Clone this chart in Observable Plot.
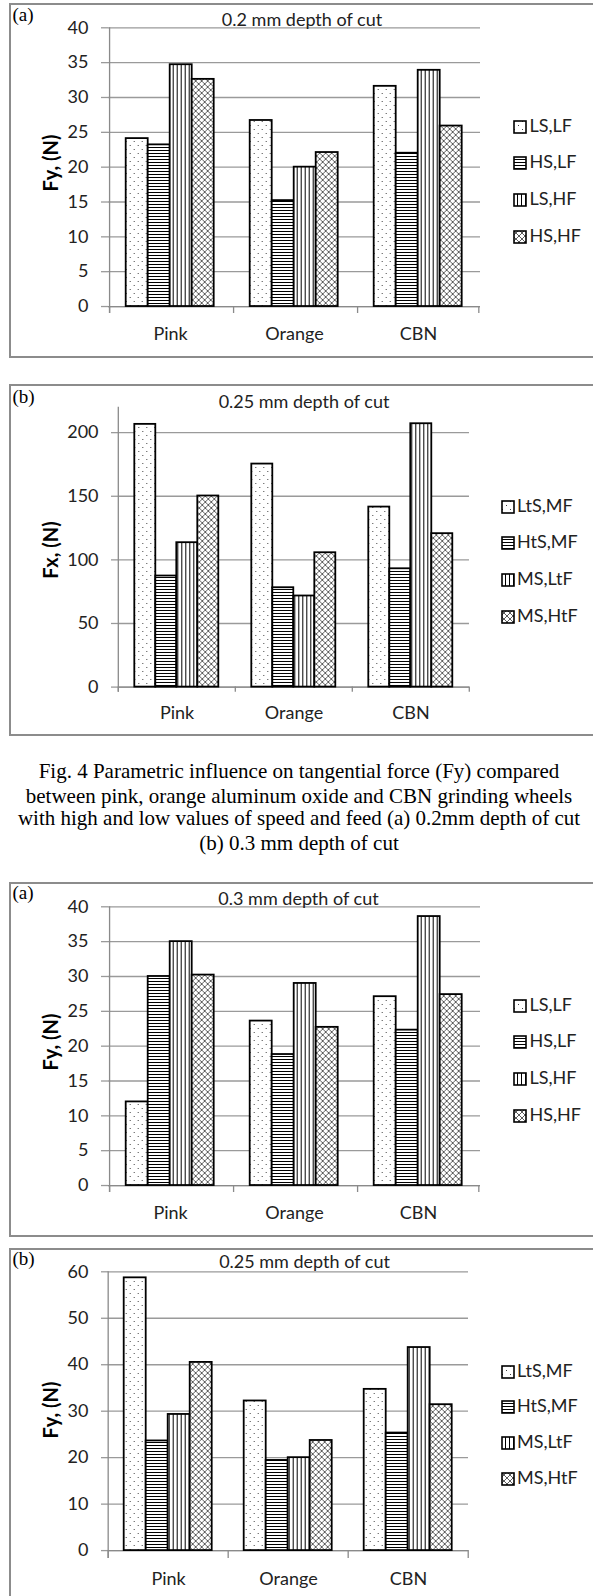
<!DOCTYPE html>
<html>
<head>
<meta charset="utf-8">
<script src="https://cdn.jsdelivr.net/npm/d3@7"></script>
<script src="https://cdn.jsdelivr.net/npm/@observablehq/plot@0.6"></script>
<style>
  html, body { margin: 0; padding: 0; background: #fff; }
  body { width: 593px; height: 1596px; overflow: hidden; position: relative; }
  .abs { position: absolute; white-space: nowrap; }
  .panel { position: absolute; border: 2px solid #8c8c8c; box-sizing: border-box; pointer-events: none; z-index: 3; }
  .plotwrap { position: absolute; left: 0; z-index: 1; }
</style>
</head>
<body>
<svg width="0" height="0" style="position:absolute">
  <defs>
    <pattern id="pat-dots" width="8" height="8" patternUnits="userSpaceOnUse">
      <rect width="8" height="8" fill="#fff"/>
      <rect x="1" y="1" width="1" height="1" fill="#444"/>
      <rect x="5" y="5" width="1" height="1" fill="#444"/>
    </pattern>
    <pattern id="pat-hlines" width="4" height="3" patternUnits="userSpaceOnUse">
      <rect width="4" height="3" fill="#fff"/>
      <rect y="0" width="4" height="1" fill="#000"/>
    </pattern>
    <pattern id="pat-vlines" width="4" height="4" patternUnits="userSpaceOnUse">
      <rect width="4" height="4" fill="#fff"/>
      <rect x="0" width="1" height="4" fill="#000"/>
    </pattern>
    <pattern id="pat-cross" width="6" height="6" patternUnits="userSpaceOnUse">
      <rect width="6" height="6" fill="#fff"/>
      <path d="M0,0L6,6M6,0L0,6" stroke="#333" stroke-width="0.8"/>
    </pattern>
  </defs>
</svg>
<script>
// ---------------- DATA ----------------
const categories = ["Pink", "Orange", "CBN"];
const seriesSpeedFeed = ["LS,LF", "HS,LF", "LS,HF", "HS,HF"];
const seriesLevels = ["LtS,MF", "HtS,MF", "MS,LtF", "MS,HtF"];

// rows = categories, columns = series
const fyCut02 = [[24.1, 23.2, 34.7, 32.6], [26.7, 15.2, 20.0, 22.1], [31.6, 22.0, 33.9, 25.9]];
const fxCut025 = [[206.5, 87.3, 113.5, 150.2], [175.3, 78.1, 71.6, 105.6], [141.5, 93.0, 207.0, 120.6]];
const fyCut03 = [[12.0, 30.0, 35.0, 30.2], [23.6, 18.8, 29.0, 22.7], [27.1, 22.3, 38.6, 27.4]];
const fyCut025 = [[58.7, 23.6, 29.3, 40.5], [32.2, 19.4, 20.0, 23.7], [34.7, 25.3, 43.7, 31.4]];

const ticksFy40 = [0, 5, 10, 15, 20, 25, 30, 35, 40];
const ticksFx200 = [0, 50, 100, 150, 200];
const ticksFy60 = [0, 10, 20, 30, 40, 50, 60];

const panelTitles = ["0.2 mm depth of cut", "0.25 mm depth of cut", "0.3 mm depth of cut", "0.25 mm depth of cut"];
const panelTags = ["(a)", "(b)", "(a)", "(b)"];
const yTitles = ["Fy, (N)", "Fx, (N)", "Fy, (N)", "Fy, (N)"];
const captionLines = [
  "Fig. 4 Parametric influence on tangential force (Fy) compared",
  "between pink, orange aluminum oxide and CBN grinding wheels",
  "with high and low values of speed and feed (a) 0.2mm depth of cut",
  "(b) 0.3 mm depth of cut"
];

// ---------------- STYLE / LAYOUT ----------------
const patternIds = ["url(#pat-dots)", "url(#pat-hlines)", "url(#pat-vlines)", "url(#pat-cross)"];
const gridColor = "#9a9a9a";
const axisColor = "#8a8a8a";
const textColor = "#222";
const sansFont = "Lato, 'Open Sans', sans-serif";
const serifFont = "'Liberation Serif', 'Times New Roman', serif";

const layouts = [
  { svgTop: 0, width: 490, height: 353, mt: 27.3, mb: 40, ml: 107.3, mr: 9.8, yDomain: [-1, 40], pOuter: 0.7,
    border: [3, 355], title: [302, 20.7], tag: 16, yTitle: [50, 162.5],
    legend: { sq: 513, tx: 529.5, rows: [126.7, 163.3, 200, 236.7] } },
  { svgTop: 370, width: 480, height: 361.7, mt: 36.7, mb: 40, ml: 116.7, mr: 10, yDomain: [-4, 220], pOuter: 0.77,
    border: [384, 352], title: [304, 403.3], tag: 397.3, yTitle: [50, 550],
    legend: { sq: 501, tx: 517, rows: [506.7, 543.3, 580, 616.7] } },
  { svgTop: 878.6, width: 490, height: 353, mt: 27.3, mb: 40, ml: 107.3, mr: 9.8, yDomain: [-1, 40], pOuter: 0.7,
    border: [882, 355], title: [298.5, 900], tag: 893.3, yTitle: [50, 1041.7],
    legend: { sq: 513, tx: 529.5, rows: [1005.7, 1042.3, 1079, 1115.7] } },
  { svgTop: 1243.7, width: 480, height: 354, mt: 27.3, mb: 40, ml: 107.3, mr: 11.2, yDomain: [-1.7, 60], pOuter: 0.72,
    border: [1248, 400], title: [304.5, 1263.3], tag: 1259.3, yTitle: [50, 1410],
    legend: { sq: 501, tx: 517, rows: [1371.7, 1407.3, 1443.3, 1479.3] } }
];

function addText(str, opts) {
  const d = document.createElement("div");
  d.className = "abs";
  d.textContent = str;
  const size = opts.size;
  const serif = opts.serif;
  const lh = serif ? 1.107 * size : 1.2 * size;
  const offs = serif ? 0.611 * size : 0.657 * size;
  d.style.fontFamily = serif ? serifFont : sansFont;
  d.style.fontSize = size + "px";
  d.style.lineHeight = lh + "px";
  d.style.color = opts.color || "#000";
  if (opts.weight) d.style.fontWeight = opts.weight;
  d.style.zIndex = 2;
  if (opts.rotate) {
    d.style.left = opts.cx + "px";
    d.style.top = opts.cy + "px";
    d.style.transform = "translate(-50%, -50%) rotate(-90deg)";
  } else {
    d.style.top = (opts.cy - offs) + "px";
    if (opts.cx !== undefined) {
      d.style.left = opts.cx + "px";
      d.style.transform = "translateX(-50%)";
    } else {
      d.style.left = opts.x + "px";
    }
  }
  document.body.appendChild(d);
  return d;
}

function drawPanel(k, values, series, ticks) {
  const L = layouts[k];
  const rows = [];
  categories.forEach((c, i) => series.forEach((s, j) => rows.push({ cat: c, series: s, value: values[i][j], pat: patternIds[j] })));
  const fxW = (L.width - L.ml - L.mr) / categories.length;
  const step = fxW / (series.length + 2 * L.pOuter);
  const edge = (0.5 + L.pOuter) * step;

  const chart = Plot.plot({
    width: L.width, height: L.height,
    marginTop: L.mt, marginBottom: L.mb, marginLeft: L.ml, marginRight: L.mr,
    style: { fontFamily: sansFont, fontSize: "18px", background: "transparent", overflow: "visible", color: textColor },
    fx: { domain: categories, padding: 0, label: null },
    x: { domain: series, paddingInner: 0, paddingOuter: L.pOuter, axis: null },
    y: { domain: L.yDomain, axis: null },
    color: { type: "identity" },
    marks: [
      Plot.gridY(ticks, { stroke: gridColor, strokeOpacity: 1, strokeWidth: 1.3 }),
      Plot.axisY(ticks, { anchor: "left", tickSize: 7, tickPadding: 13, stroke: gridColor, strokeOpacity: 1, strokeWidth: 1.3,
        fill: textColor, fontSize: 18, label: null }),
      Plot.axisFx({ anchor: "bottom", tickSize: 0, tickPadding: 14, fontSize: 18, fill: textColor, label: null }),
      Plot.ruleX([categories[0]], { fx: d => d, x: () => series[0], dx: -edge, y1: L.yDomain[0], y2: L.yDomain[1], stroke: axisColor, strokeWidth: 1.3 }),
      Plot.ruleX(categories, { fx: d => d, x: () => series[0], dx: -edge, y1: 0, y2: L.yDomain[0], stroke: axisColor, strokeWidth: 1.3 }),
      Plot.ruleX([categories[categories.length - 1]], { fx: d => d, x: () => series[series.length - 1], dx: edge, y1: 0, y2: L.yDomain[0], stroke: axisColor, strokeWidth: 1.3 }),
      Plot.ruleY([0], { stroke: axisColor, strokeWidth: 1.3 }),
      Plot.barY(rows, { fx: "cat", x: "series", y: "value", fill: "pat", stroke: "#000", strokeWidth: 1.8 })
    ]
  });
  const wrap = document.createElement("div");
  wrap.className = "plotwrap";
  wrap.style.top = L.svgTop + "px";
  wrap.appendChild(chart);
  document.body.appendChild(wrap);

  const b = document.createElement("div");
  b.className = "panel";
  b.style.left = "9px";
  b.style.top = L.border[0] + "px";
  b.style.height = L.border[1] + "px";
  b.style.width = "640px";
  document.body.appendChild(b);

  addText(panelTags[k], { x: 12.5, cy: L.tag, size: 19, serif: true });
  addText(panelTitles[k], { cx: L.title[0], cy: L.title[1], size: 18, color: textColor });
  addText(yTitles[k], { cx: L.yTitle[0], cy: L.yTitle[1], size: 20, weight: 700, rotate: true });

  series.forEach((s, j) => {
    const cy = L.legend.rows[j];
    const sq = document.createElementNS("http://www.w3.org/2000/svg", "svg");
    sq.setAttribute("width", 14);
    sq.setAttribute("height", 14);
    sq.style.position = "absolute";
    sq.style.left = L.legend.sq + "px";
    sq.style.top = (cy - 7) + "px";
    sq.style.zIndex = 2;
    const r = document.createElementNS("http://www.w3.org/2000/svg", "rect");
    r.setAttribute("x", 1); r.setAttribute("y", 1);
    r.setAttribute("width", 12); r.setAttribute("height", 12);
    r.setAttribute("fill", patternIds[j]);
    r.setAttribute("stroke", "#000");
    r.setAttribute("stroke-width", 1.6);
    sq.appendChild(r);
    document.body.appendChild(sq);
    addText(s, { x: L.legend.tx, cy: cy, size: 18, color: textColor });
  });
}

drawPanel(0, fyCut02, seriesSpeedFeed, ticksFy40);
drawPanel(1, fxCut025, seriesLevels, ticksFx200);
drawPanel(2, fyCut03, seriesSpeedFeed, ticksFy40);
drawPanel(3, fyCut025, seriesLevels, ticksFy60);

const captionY = [773, 797.5, 820, 845];
captionLines.forEach((t, i) => addText(t, { cx: 299, cy: captionY[i], size: 21, serif: true }));
</script>
</body>
</html>
